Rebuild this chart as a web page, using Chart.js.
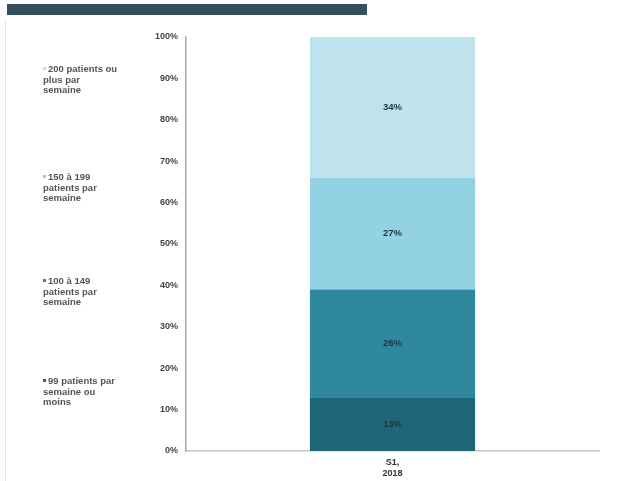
<!DOCTYPE html>
<html>
<head>
<meta charset="utf-8">
<script src="https://cdn.jsdelivr.net/npm/chart.js@4/dist/chart.umd.min.js"></script>
<style>
  html, body { margin:0; padding:0; background:#fff; }
  #wrap { position:relative; width:621px; height:481px; overflow:hidden; }
  #titlebar { position:absolute; left:7px; top:4px; width:360px; height:11px; background:#344f5e; }
  #edge { position:absolute; left:5px; top:20px; width:1px; height:461px; background:#e6e6e6; }
  #chartbox { position:absolute; left:0; top:0; width:621px; height:481px; }
  #legend { position:absolute; left:43px; top:0; width:110px; font-family:"Liberation Sans", Arial, sans-serif; font-size:9.5px; font-weight:bold; color:#555; line-height:10.5px; }
  .item { position:absolute; left:0; width:75px; }
  .sw { display:inline-block; width:3px; height:3px; margin-right:2px; vertical-align:middle; position:relative; top:-1px; }
</style>
</head>
<body>
<div id="wrap">
  <div id="titlebar"></div>
  <div id="edge"></div>
  <div id="chartbox"><canvas id="c" width="621" height="481"></canvas></div>
  <div id="legend"></div>
</div>
<script>
const categories = [["S1,", "2018"]];
const seriesNames = [
  "99 patients par semaine ou moins",
  "100 à 149 patients par semaine",
  "150 à 199 patients par semaine",
  "200 patients ou plus par semaine"
];
const values_99 = [13];
const values_100_149 = [26];
const values_150_199 = [27];
const values_200 = [34];
const yTicks = [0, 10, 20, 30, 40, 50, 60, 70, 80, 90, 100];

const colors = ["#1f6676", "#2f889d", "#93d2e2", "#bfe3ec"];
const legendTops = [376, 276, 172, 64];

const series = [values_99, values_100_149, values_150_199, values_200];

const legend = document.getElementById('legend');
seriesNames.forEach((name, i) => {
  const d = document.createElement('div');
  d.className = 'item';
  d.style.top = legendTops[i] + 'px';
  d.innerHTML = '<span class="sw" style="background:' + colors[i] + '"></span>' + name;
  legend.appendChild(d);
});

const labelPlugin = {
  id: 'barLabels',
  afterDatasetsDraw(chart) {
    const ctx = chart.ctx;
    ctx.save();
    ctx.font = 'bold 9.5px "Liberation Sans", Arial, sans-serif';
    ctx.fillStyle = '#1e3640';
    ctx.textAlign = 'center';
    ctx.textBaseline = 'middle';
    chart.data.datasets.forEach((ds, di) => {
      const meta = chart.getDatasetMeta(di);
      meta.data.forEach((bar, j) => {
        const p = bar.getProps(['x', 'y', 'base'], true);
        ctx.fillText(ds.data[j] + '%', p.x, (p.y + p.base) / 2);
      });
    });
    ctx.restore();
  }
};

new Chart(document.getElementById('c'), {
  type: 'bar',
  data: {
    labels: categories,
    datasets: series.map((vals, i) => ({
      label: seriesNames[i],
      data: vals,
      backgroundColor: colors[i],
      borderWidth: 0,
      barPercentage: 0.4,
      categoryPercentage: 1.0
    }))
  },
  options: {
    responsive: false,
    animation: false,
    layout: { padding: { left: 140, top: 37, right: 22, bottom: 0 } },
    plugins: { legend: { display: false }, tooltip: { enabled: false } },
    scales: {
      x: {
        stacked: true,
        grid: { display: false, drawTicks: false },
        border: { display: true, color: '#c9c2bf', width: 1.5 },
        ticks: { color: '#333', font: { family: '"Liberation Sans", Arial, sans-serif', size: 9, weight: 'bold' }, padding: 6 },
        afterFit(s) { s.height = 30; }
      },
      y: {
        stacked: true,
        min: 0, max: 100,
        afterBuildTicks(s) { s.ticks = yTicks.map(v => ({ value: v })); },
        grid: { display: false, drawTicks: false },
        border: { display: true, color: '#a8a8a8', width: 1.5 },
        ticks: { color: '#444', padding: 8, font: { family: '"Liberation Sans", Arial, sans-serif', size: 9, weight: 'bold' }, callback: v => v + '%' },
        afterFit(s) { s.width = 46; }
      }
    }
  },
  plugins: [labelPlugin]
});
</script>
</body>
</html>
